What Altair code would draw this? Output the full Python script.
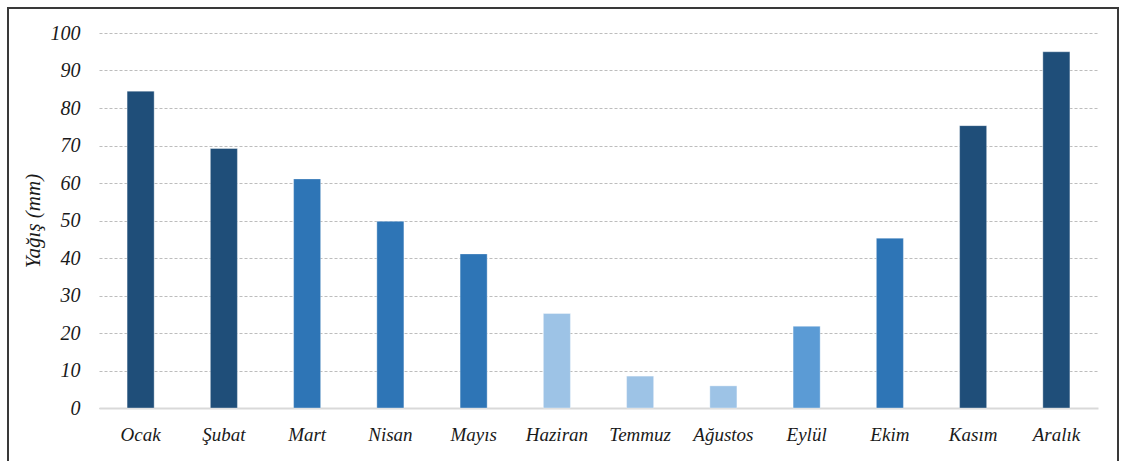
import altair as alt
import pandas as pd

months = ["Ocak", "Şubat", "Mart", "Nisan", "Mayıs", "Haziran", "Temmuz",
          "Ağustos", "Eylül", "Ekim", "Kasım", "Aralık"]
rain = [84.5, 69.2, 61.1, 49.8, 41.1, 25.2, 8.5, 5.9, 21.8, 45.3, 75.3, 95.0]
colors = ["#1F4E79", "#1F4E79", "#2E75B6", "#2E75B6", "#2E75B6", "#9DC3E6",
          "#9DC3E6", "#9DC3E6", "#5B9BD5", "#2E75B6", "#1F4E79", "#1F4E79"]

df = pd.DataFrame({"month": months, "rain": rain, "color": colors})

FONT = "Liberation Serif"

bars = alt.Chart(df).mark_bar(stroke="#ffffff", strokeOpacity=0.35, strokeWidth=1).encode(
    x=alt.X("month:N", sort=months,
            scale=alt.Scale(paddingInner=0.675, paddingOuter=0.3375),
            axis=alt.Axis(title=None, labelAngle=0, labelFont=FONT, labelFontStyle="italic",
                          labelFontSize=19, labelColor="#1a1a1a", labelPadding=17,
                          ticks=False, domain=True, domainColor="#d9d9d9", domainWidth=2,
                          grid=False)),
    y=alt.Y("rain:Q", scale=alt.Scale(domain=[0, 100], nice=False),
            axis=alt.Axis(title="Yağış (mm)", values=list(range(0, 101, 10)),
                          titleFont=FONT, titleFontStyle="italic", titleFontWeight="normal",
                          titleFontSize=21, titleColor="#1a1a1a", titlePadding=7,
                          labelFont=FONT, labelFontStyle="italic", labelFontSize=20,
                          labelColor="#1a1a1a", labelPadding=19, ticks=False, domain=False,
                          grid=True, gridColor="#bdbdbd", gridDash=[3, 2], gridWidth=1)),
    color=alt.Color("color:N", scale=None, legend=None),
)

border = alt.Chart(df).mark_rect(fill=None, stroke="#3a3a3a", strokeWidth=1.5).encode(
    x=alt.value(-91), x2=alt.value(1019), y=alt.value(-25), y2=alt.value(440)
)

chart = alt.layer(bars, border).properties(
    width=999, height=375,
    autosize=alt.AutoSizeParams(type="none"),
    padding={"left": 99, "top": 33, "right": 23, "bottom": 53},
    background="#ffffff",
).configure_view(stroke=None)

chart.save("out.html", embed_options={"renderer": "svg", "actions": False})
